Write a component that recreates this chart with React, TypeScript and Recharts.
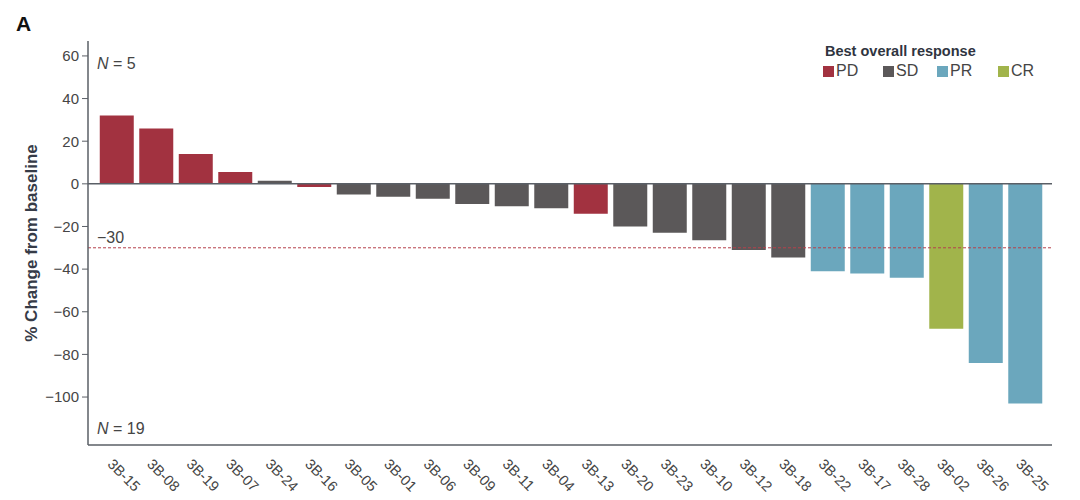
import { BarChart, Bar, Cell, XAxis, YAxis, ReferenceLine } from "recharts";

const patients = [
  "3B-15", "3B-08", "3B-19", "3B-07", "3B-24", "3B-16", "3B-05", "3B-01",
  "3B-06", "3B-09", "3B-11", "3B-04", "3B-13", "3B-20", "3B-23", "3B-10",
  "3B-12", "3B-18", "3B-22", "3B-17", "3B-28", "3B-02", "3B-26", "3B-25",
];

const changes = [
  32, 26, 14, 5.5, 1.5, -1.5, -5, -6,
  -7, -9.5, -10.5, -11.5, -14, -20, -23, -26.5,
  -31, -34.5, -41, -42, -44, -68, -84, -103,
];

const responses = [
  "PD", "PD", "PD", "PD", "SD", "PD", "SD", "SD",
  "SD", "SD", "SD", "SD", "PD", "SD", "SD", "SD",
  "SD", "SD", "PR", "PR", "PR", "CR", "PR", "PR",
];

const responseTypes = ["PD", "SD", "PR", "CR"];
const yTicks = [60, 40, 20, 0, -20, -40, -60, -80, -100];

const colors: Record<string, string> = {
  PD: "#a23240",
  SD: "#5b5859",
  PR: "#6ba7bd",
  CR: "#a1b44b",
};

const font = "'Liberation Sans', Arial, sans-serif";
const textColor = "#454545";
const axisColor = "#5a5f66";

const data = patients.map((p, i) => ({ patient: p, change: changes[i], response: responses[i] }));

const fmt = (v: number) => String(v).replace("-", "\u2212");

function XTick({ x, y, payload }: any) {
  return (
    <g transform={`translate(${x - 10},${y + 12}) rotate(45)`}>
      <text x={0} y={0} textAnchor="start" fontSize={14.5} fill={textColor} fontFamily={font}>
        {payload.value}
      </text>
    </g>
  );
}

function LegendBox() {
  const gaps = [0, 60, 114, 175];
  return (
    <div style={{ position: "absolute", left: 823, top: 43, width: 240, height: 44, fontFamily: font, color: "#2f3440" }}>
      <div style={{ position: "absolute", left: 2, top: 0, fontWeight: 700, fontSize: 14.5 }}>
        Best overall response
      </div>
      {responseTypes.map((r, i) => (
        <div key={r} style={{ position: "absolute", left: gaps[i], top: 19, display: "flex", alignItems: "center", fontSize: 16, color: textColor }}>
          <span style={{ display: "inline-block", width: 11, height: 11, background: colors[r], marginRight: 2 }} />
          {r}
        </div>
      ))}
    </div>
  );
}

export default function App() {
  return (
    <div style={{ position: "absolute", left: 0, top: 0, width: 1080, height: 500, background: "#fff", fontFamily: font }}>
      <BarChart
        width={1080}
        height={500}
        data={data}
        margin={{ top: 41, right: 28, bottom: 0, left: 28 }}
        barCategoryGap="7%"
      >
        <XAxis
          dataKey="patient"
          interval={0}
          padding={{ left: 9, right: 7 }}
          axisLine={{ stroke: axisColor, strokeWidth: 1.5 }}
          tickLine={false}
          tick={<XTick />}
          height={55}
        />
        <YAxis
          type="number"
          domain={[-122.5, 67]}
          ticks={yTicks}
          allowDataOverflow
          width={60}
          tickSize={6}
          tickMargin={3}
          tickFormatter={fmt}
          axisLine={{ stroke: axisColor, strokeWidth: 1.5 }}
          tickLine={{ stroke: axisColor }}
          tick={{ fontSize: 15, fill: textColor, fontFamily: font }}
          label={{
            content: ({ viewBox }: any) => (
              <text
                transform={`translate(${viewBox.x + 3},${viewBox.y + viewBox.height / 2}) rotate(-90)`}
                textAnchor="middle"
                dominantBaseline="central"
                fontSize={17}
                fontWeight={700}
                fill="#363b47"
                fontFamily={font}
              >
                % Change from baseline
              </text>
            ),
          }}
        />
        <ReferenceLine
          y={-30}
          stroke="#b5404c"
          strokeDasharray="3 2"
          strokeWidth={1}
          label={{
            content: ({ viewBox }: any) => (
              <text x={viewBox.x + 9} y={viewBox.y - 5} fontSize={16} fill={textColor} fontFamily={font}>
                {"\u221230"}
              </text>
            ),
          }}
        />
        <Bar dataKey="change" isAnimationActive={false}>
          {data.map((d) => (
            <Cell key={d.patient} fill={colors[d.response]} />
          ))}
        </Bar>
        <ReferenceLine y={0} stroke={axisColor} strokeWidth={1.5} />
      </BarChart>
      <div style={{ position: "absolute", left: 16, top: 12, fontSize: 21, fontWeight: 700, color: "#111" }}>A</div>
      <div style={{ position: "absolute", left: 97, top: 55, fontSize: 16, color: textColor }}>
        <i>N</i> = 5
      </div>
      <div style={{ position: "absolute", left: 97, top: 420, fontSize: 16, color: textColor }}>
        <i>N</i> = 19
      </div>
      <LegendBox />
    </div>
  );
}
